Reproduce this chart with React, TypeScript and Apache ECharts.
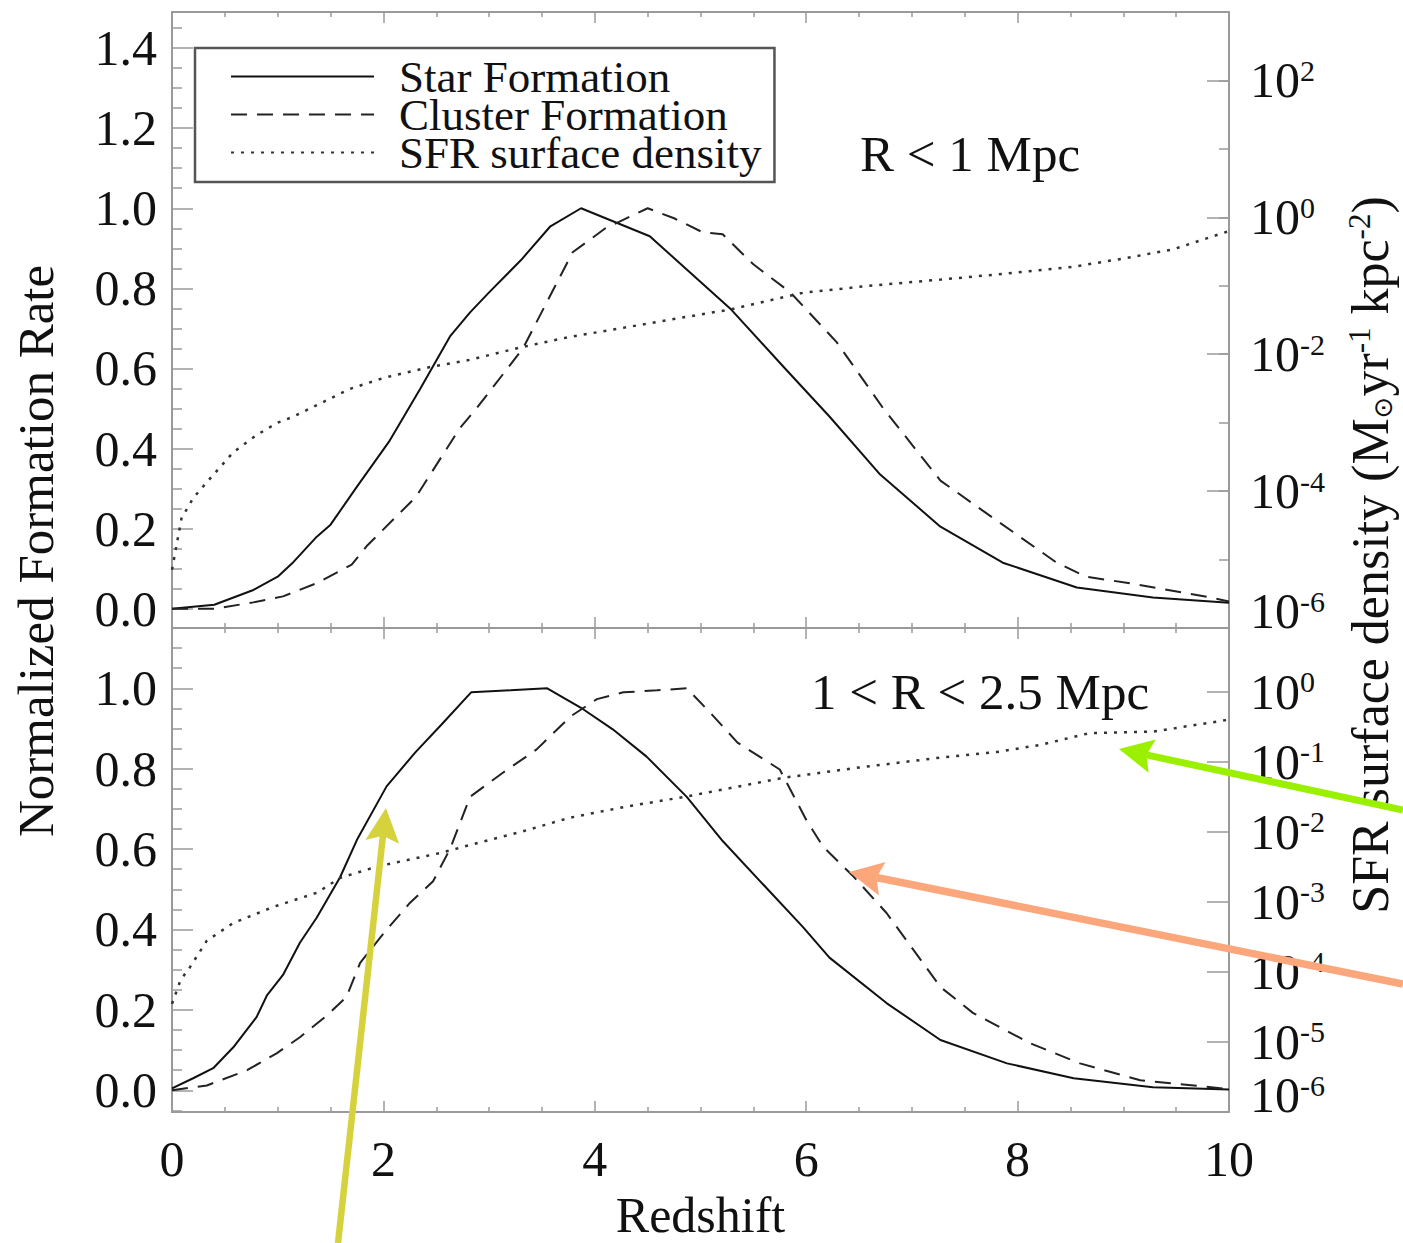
import React, { useEffect, useRef } from "react";
import * as echarts from "echarts";

const FONT = "'Liberation Serif', 'Times New Roman', 'DejaVu Serif', serif";
const INK = "#111";
const FRAME = "#9a9a9a";

// Panel 1: R < 1 Mpc
const zStarInner = [0, 0.4, 0.77, 1.0, 1.15, 1.37, 1.5, 1.75, 2.06, 2.35, 2.63, 2.82, 3.0, 3.3, 3.58, 3.87, 4.52, 5.28, 5.8, 6.22, 6.7, 7.27, 7.86, 8.56, 9.28, 10];
const starInner = [0, 0.01, 0.047, 0.08, 0.117, 0.18, 0.21, 0.305, 0.42, 0.55, 0.68, 0.74, 0.79, 0.87, 0.955, 1.0, 0.93, 0.75, 0.6, 0.48, 0.335, 0.205, 0.115, 0.053, 0.028, 0.015];

const zClusterInner = [0, 0.4, 0.77, 1.05, 1.37, 1.7, 1.84, 2.31, 2.72, 2.88, 3.32, 3.79, 4.1, 4.5, 4.75, 5.02, 5.21, 5.5, 5.85, 6.29, 6.73, 7.27, 7.67, 8.37, 8.65, 9.03, 9.79, 10];
const clusterInner = [0, 0.0, 0.016, 0.031, 0.064, 0.11, 0.156, 0.28, 0.45, 0.5, 0.65, 0.89, 0.95, 1.0, 0.975, 0.94, 0.935, 0.86, 0.79, 0.665, 0.5, 0.32, 0.245, 0.115, 0.08, 0.065, 0.03, 0.018];

const zSfrInner = [0, 0.09, 0.2, 0.33, 0.58, 0.8, 1.0, 1.15, 1.4, 1.68, 2.0, 2.44, 2.82, 3.3, 3.77, 4.25, 4.71, 5.28, 5.97, 6.6, 7.27, 7.9, 8.53, 9.0, 9.47, 10];
const sfrInner = [7.1e-6, 4.0e-5, 7.9e-5, 1.35e-4, 3.7e-4, 6.6e-4, 1.0e-3, 1.23e-3, 1.9e-3, 3.1e-3, 4.5e-3, 6.5e-3, 8.3e-3, 1.26e-2, 1.8e-2, 2.4e-2, 3.2e-2, 4.5e-2, 7.9e-2, 0.1, 0.123, 0.151, 0.19, 0.25, 0.34, 0.63];

// Panel 2: 1 < R < 2.5 Mpc
const zStarOuter = [0, 0.2, 0.39, 0.58, 0.8, 0.9, 1.05, 1.21, 1.37, 1.59, 1.75, 2.03, 2.3, 2.55, 2.83, 3.2, 3.55, 3.89, 4.17, 4.49, 4.87, 5.21, 5.6, 5.97, 6.22, 6.76, 7.27, 7.9, 8.53, 9.28, 10];
const starOuter = [0.005, 0.03, 0.055, 0.107, 0.182, 0.237, 0.287, 0.367, 0.43, 0.53, 0.623, 0.756, 0.84, 0.91, 0.99, 0.995, 1.0, 0.948, 0.898, 0.83, 0.73, 0.62, 0.51, 0.406, 0.33, 0.217, 0.125, 0.067, 0.03, 0.0075, 0.002];

const zClusterOuter = [0, 0.33, 0.71, 0.99, 1.21, 1.47, 1.65, 1.78, 2.0, 2.25, 2.47, 2.63, 2.82, 3.13, 3.45, 3.77, 4.02, 4.27, 4.59, 4.87, 5.09, 5.35, 5.75, 6.0, 6.16, 6.45, 6.76, 7.27, 7.58, 8.12, 8.59, 9.16, 10];
const clusterOuter = [0, 0.012, 0.05, 0.092, 0.132, 0.187, 0.232, 0.317, 0.39, 0.466, 0.52, 0.6, 0.73, 0.79, 0.848, 0.93, 0.973, 0.99, 0.995, 1.0, 0.94, 0.865, 0.798, 0.673, 0.606, 0.531, 0.441, 0.257, 0.192, 0.117, 0.067, 0.025, 0.003];

const zSfrOuter = [0, 0.08, 0.17, 0.33, 0.58, 0.96, 1.37, 1.59, 1.94, 2.54, 2.82, 3.3, 3.77, 4.3, 4.87, 5.78, 6.5, 7.27, 7.8, 8.21, 8.68, 9.28, 10];
const sfrOuter = [3.5e-5, 7.6e-5, 1.17e-4, 2.8e-4, 5.0e-4, 8.5e-4, 1.35e-3, 2.2e-3, 3.2e-3, 5.0e-3, 6.5e-3, 1.0e-2, 1.6e-2, 2.3e-2, 3.2e-2, 5.9e-2, 8.3e-2, 0.115, 0.138, 0.174, 0.257, 0.27, 0.4];

// Decades that carry a label on each right-hand axis
const labelledExpInner = [-6, -4, -2, 0, 2];
const labelledExpOuter = [-6, -5, -4, -3, -2, -1, 0];

const seriesNames = ["Star Formation", "Cluster Formation", "SFR surface density"];
const panelLabels = ["R < 1 Mpc", "1 < R < 2.5 Mpc"];
const leftAxisTitle = "Normalized Formation Rate";
const bottomAxisTitle = "Redshift";

// Callout arrows drawn over the figure (tail -> tip, in page pixels)
const callouts = [
  { tail: [338, 1243], tip: [386, 808], color: "#d5d23e", width: 6.5 },
  { tail: [1403, 810], tip: [1119, 749], color: "#9bf000", width: 7 },
  { tail: [1403, 984], tip: [849, 872], color: "#fba77b", width: 7.5 },
];

const zip = (xs: number[], ys: number[]) => xs.map((x, i) => [x, ys[i]]);

const fracLabel = (v: number) => {
  const k = v / 0.2;
  return Math.abs(k - Math.round(k)) < 1e-6 ? Math.abs(v).toFixed(1) : "";
};

// "10" with a raised exponent; the lowest decade is lifted clear of the panel edge
const powLabel = (allowed: number[]) => (v: number) => {
  const e = Math.log10(v);
  const r = Math.round(e);
  if (Math.abs(e - r) > 1e-6 || allowed.indexOf(r) < 0) return "";
  const base = `{b|10}{s|${r}}`;
  return r === allowed[0] ? `${base}\n{gap| }` : base;
};

const powRich = {
  b: { fontFamily: FONT, fontSize: 50, color: INK },
  s: { fontFamily: FONT, fontSize: 30, color: INK, verticalAlign: "top" },
  gap: { fontSize: 10, lineHeight: 34 },
};

const lineAxis = { show: true, onZero: false, lineStyle: { color: FRAME, width: 2 } };

function xAxisFor(gridIndex: number, position: "top" | "bottom", withLabels: boolean) {
  return {
    type: "value",
    gridIndex,
    position,
    min: 0,
    max: 10,
    interval: 2,
    axisLine: lineAxis,
    axisTick: { show: true, inside: true, length: 11, lineStyle: { color: FRAME, width: 1.5 } },
    minorTick: { show: true, splitNumber: 4, length: 5, lineStyle: { color: FRAME, width: 1.5 } },
    splitLine: { show: false },
    minorSplitLine: { show: false },
    axisLabel: withLabels
      ? { show: true, fontFamily: FONT, fontSize: 50, color: INK, margin: 22 }
      : { show: false },
    name: withLabels ? bottomAxisTitle : "",
    nameLocation: "middle",
    nameGap: 78,
    nameTextStyle: { fontFamily: FONT, fontSize: 50, color: INK },
  };
}

function linearY(gridIndex: number, min: number, max: number) {
  return {
    type: "value",
    gridIndex,
    position: "left",
    min,
    max,
    splitNumber: 8,
    minInterval: 0.2,
    maxInterval: 0.2,
    axisLine: lineAxis,
    axisTick: { show: true, inside: true, length: 21, lineStyle: { color: FRAME, width: 1.5 } },
    minorTick: { show: true, splitNumber: 4, length: 10, lineStyle: { color: FRAME, width: 1.5 } },
    splitLine: { show: false },
    minorSplitLine: { show: false },
    axisLabel: { show: true, formatter: fracLabel, fontFamily: FONT, fontSize: 50, color: INK, margin: 15 },
  };
}

function logY(gridIndex: number, max: number, interval: number, tickLen: number, showLine: boolean, labelled: number[] | null) {
  return {
    type: "log",
    logBase: 10,
    gridIndex,
    position: "right",
    offset: 0,
    min: 1e-6,
    max,
    interval,
    axisLine: { ...lineAxis, show: showLine },
    axisTick: { show: true, inside: true, length: tickLen, lineStyle: { color: FRAME, width: 1.5 } },
    minorTick: { show: false },
    splitLine: { show: false },
    minorSplitLine: { show: false },
    axisLabel: labelled
      ? { show: true, formatter: powLabel(labelled), rich: powRich, margin: 21, align: "left", showMaxLabel: true, showMinLabel: true }
      : { show: false },
  };
}

function curve(name: string, xAxisIndex: number, yAxisIndex: number, data: number[][], type: any, color: string, width: number) {
  return {
    type: "line",
    name,
    xAxisIndex,
    yAxisIndex,
    data,
    symbol: "none",
    showSymbol: false,
    silent: true,
    lineStyle: { color, width, type, cap: "butt" },
    itemStyle: { color },
    z: 3,
  };
}

function calloutGraphics() {
  const L = 34;
  const W = 17;
  const notch = 6;
  return callouts.flatMap((a) => {
    const dx = a.tip[0] - a.tail[0];
    const dy = a.tip[1] - a.tail[1];
    const len = Math.hypot(dx, dy);
    const ux = dx / len;
    const uy = dy / len;
    const bx = a.tip[0] - L * ux;
    const by = a.tip[1] - L * uy;
    const nx = -uy;
    const ny = ux;
    const mx = a.tip[0] - (L - notch) * ux;
    const my = a.tip[1] - (L - notch) * uy;
    return [
      {
        type: "line",
        z: 100,
        silent: true,
        shape: { x1: a.tail[0], y1: a.tail[1], x2: mx, y2: my },
        style: { stroke: a.color, lineWidth: a.width },
      },
      {
        type: "polygon",
        z: 101,
        silent: true,
        shape: { points: [[a.tip[0], a.tip[1]], [bx + W * nx, by + W * ny], [mx, my], [bx - W * nx, by - W * ny]] },
        style: { fill: a.color },
      },
    ];
  });
}

export default function App() {
  const ref = useRef<HTMLDivElement>(null);

  useEffect(() => {
    document.body.style.margin = "0";
    if (!ref.current) return;
    const chart = echarts.init(ref.current, undefined, { renderer: "svg" });

    const option: any = {
      animation: false,
      backgroundColor: "#ffffff",
      textStyle: { fontFamily: FONT, color: INK },
      grid: [
        { left: 172, top: 12, width: 1057, height: 616, containLabel: false, outerBoundsMode: "none" },
        { left: 172, top: 628, width: 1057, height: 484, containLabel: false, outerBoundsMode: "none" },
      ],
      xAxis: [
        xAxisFor(0, "bottom", false),
        xAxisFor(0, "top", false),
        xAxisFor(1, "bottom", true),
        xAxisFor(1, "top", false),
      ],
      yAxis: [
        linearY(0, -0.048, 1.49),
        logY(0, 1e3, 2, 22, true, labelledExpInner),
        logY(0, 1e3, 1, 10, false, null),
        linearY(1, -0.054, 1.15),
        logY(1, 8.15, 1, 22, true, labelledExpOuter),
      ],
      legend: {
        show: true,
        selectedMode: false,
        orient: "vertical",
        left: 195,
        top: 48,
        data: seriesNames,
        itemWidth: 143,
        itemHeight: 14,
        itemGap: -7,
        padding: [6, 13, 7, 35],
        borderColor: "#555",
        borderWidth: 2.5,
        backgroundColor: "#ffffff",
        itemStyle: { opacity: 0 },
        textStyle: { fontFamily: FONT, fontSize: 45, color: INK, padding: [0, 0, 0, 20] },
      },
      series: [
        curve(seriesNames[0], 0, 0, zip(zStarInner, starInner), "solid", "#111", 2),
        curve(seriesNames[1], 0, 0, zip(zClusterInner, clusterInner), [16, 10], "#222", 2),
        curve(seriesNames[2], 0, 1, zip(zSfrInner, sfrInner), [3, 7], "#333", 2.5),
        curve(seriesNames[0], 2, 3, zip(zStarOuter, starOuter), "solid", "#111", 2),
        curve(seriesNames[1], 2, 3, zip(zClusterOuter, clusterOuter), [16, 10], "#222", 2),
        curve(seriesNames[2], 2, 4, zip(zSfrOuter, sfrOuter), [3, 7], "#333", 2.5),
      ],
      graphic: [
        {
          type: "text",
          x: 36,
          y: 551,
          rotation: Math.PI / 2,
          silent: true,
          style: { text: leftAxisTitle, fontFamily: FONT, fontSize: 51, fill: INK, align: "center", verticalAlign: "middle" },
        },
        {
          type: "text",
          x: 1370,
          y: 555,
          rotation: Math.PI / 2,
          silent: true,
          style: {
            text: "SFR surface density (M{sun|\u2299}yr{sup|-1} kpc{sup|-2})",
            fontFamily: FONT,
            fontSize: 52,
            fill: INK,
            align: "center",
            verticalAlign: "middle",
            rich: {
              sun: { fontFamily: "'DejaVu Sans', sans-serif", fontSize: 26, fill: INK, verticalAlign: "bottom" },
              sup: { fontFamily: FONT, fontSize: 31, fill: INK, verticalAlign: "top" },
            },
          },
        },
        {
          type: "text",
          x: 860,
          y: 154,
          silent: true,
          style: { text: panelLabels[0], fontFamily: FONT, fontSize: 51, fill: INK, align: "left", verticalAlign: "middle" },
        },
        {
          type: "text",
          x: 811,
          y: 692,
          silent: true,
          style: { text: panelLabels[1], fontFamily: FONT, fontSize: 51, fill: INK, align: "left", verticalAlign: "middle" },
        },
        ...calloutGraphics(),
      ],
    };

    chart.setOption(option);
    return () => chart.dispose();
  }, []);

  return <div ref={ref} style={{ width: 1403, height: 1243 }} />;
}
